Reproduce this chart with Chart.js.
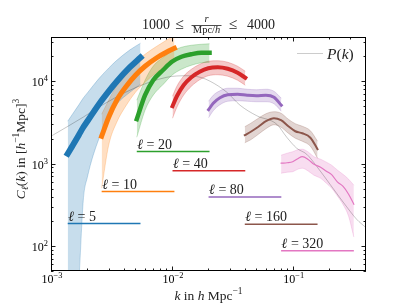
<!DOCTYPE html>
<html>
<head>
<meta charset="utf-8">
<script src="https://cdn.jsdelivr.net/npm/chart.js@4"></script>
<style>
  html, body { margin: 0; background: #fff; }
</style>
</head>
<body>
<canvas id="chart" width="407" height="305"></canvas>
<script>
// multipoles and the level of each flat reference line
const ELLS = [5, 10, 20, 40, 80, 160, 320];
const LEVELS = [188, 460, 1404, 819, 396, 185, 88];

// k nodes, mean curve, upper and lower edge of the band, per multipole
const K5 = [0.001375, 0.0015, 0.0017, 0.00185, 0.002, 0.0025, 0.003, 0.0035, 0.0045, 0.0055];
const MID5 = [1322, 1634, 2228, 2769, 3275, 5307, 7545, 9944, 14783, 19380];
const HI5 = [3275, 3954, 5175, 6257, 7215, 10843, 14414, 17921, 24022, 28880];
const LO5 = [1, 5, 38, 361, 686, 2037, 3563, 5265, 7360, 9200];

const K10 = [0.002625, 0.003, 0.0035, 0.0042, 0.005, 0.006, 0.0075, 0.009, 0.0105];
const MID10 = [2154, 3661, 5886, 8699, 11823, 15199, 19272, 22463, 25119];
const HI10 = [3981, 5886, 8945, 12853, 16995, 21245, 26561, 31404, 36104];
const LO10 = [505, 1676, 3184, 5117, 7356, 9725, 12853, 15199, 16995];

const K20 = [0.005125, 0.006, 0.007, 0.0085, 0.01, 0.012, 0.0145, 0.0175, 0.0205];
const MID20 = [3463, 6767, 10283, 13785, 17234, 19817, 21245, 22152, 22152];
const HI20 = [5886, 10283, 15199, 19543, 23101, 25833, 27317, 28083, 28480];
const LO20 = [2095, 4450, 6767, 9197, 11823, 13978, 15626, 16759, 16995];

const K40 = [0.010125, 0.011, 0.0125, 0.0145, 0.017, 0.02, 0.024, 0.029, 0.035, 0.0405];
const MID40 = [4977, 6579, 8945, 11180, 13034, 14377, 14783, 14178, 12679, 11025];
const HI40 = [6579, 8699, 11498, 13978, 16069, 17475, 17722, 16995, 15199, 13217];
const LO40 = [3561, 4840, 6767, 8699, 10428, 11659, 11989, 11498, 10283, 8945];

const K80 = [0.020125, 0.022, 0.025, 0.029, 0.035, 0.042, 0.05, 0.06, 0.07, 0.0805];
const MID80 = [4513, 5412, 6310, 6861, 6958, 6767, 6673, 6767, 6399, 5117];
const HI80 = [5722, 6767, 7669, 8227, 8227, 8000, 7886, 8000, 7563, 6222];
const LO80 = [3611, 4389, 5189, 5722, 5802, 5722, 5643, 5643, 5337, 4329];

const K160 = [0.040125, 0.045, 0.052, 0.06, 0.07, 0.08, 0.092, 0.105, 0.12, 0.14, 0.1605];
const MID160 = [2215, 2442, 2808, 3275, 3561, 3367, 2848, 2476, 2342, 2066, 1499];
const HI160 = [2808, 3097, 3561, 4037, 4269, 4094, 3463, 3054, 2848, 2512, 1874];
const LO160 = [1797, 1954, 2278, 2656, 2970, 2769, 2342, 2038, 1874, 1630, 1166];

const K320 = [0.080125, 0.09, 0.1, 0.11, 0.12, 0.135, 0.15, 0.17, 0.19, 0.21, 0.235, 0.26, 0.29, 0.3205];
const MID320 = [1014, 1028, 1057, 1150, 1216, 1118, 986, 907, 811, 736, 597, 534, 427, 323];
const HI320 = [1268, 1341, 1398, 1478, 1499, 1379, 1216, 1134, 1043, 959, 834, 746, 649, 549];
const LO320 = [767, 789, 800, 858, 882, 811, 725, 667, 580, 505, 404, 323, 231, 129];

// P(k)
const PK_K = [0.001, 0.00186, 0.002556, 0.004816, 0.00909, 0.0133, 0.01714, 0.02073, 0.0285, 0.03668,
  0.0504, 0.0738, 0.0892, 0.1079, 0.1305, 0.1579, 0.2034, 0.2619, 0.338, 0.4035];
const PK = [2155, 3692, 4977, 8155, 11180, 11660, 11180, 10000, 7356, 5117,
  3818, 3012, 2097, 1541, 1303, 930, 564, 341, 212, 168];

// axis ticks
const X_MAJOR = [0.001, 0.01, 0.1];
const X_EXP = ['\u22123', '\u22122', '\u22121'];
const Y_MAJOR = [100, 1000, 10000];
const Y_EXP = ['2', '3', '4'];

const KS = [K5, K10, K20, K40, K80, K160, K320];
const MIDS = [MID5, MID10, MID20, MID40, MID80, MID160, MID320];
const HIS = [HI5, HI10, HI20, HI40, HI80, HI160, HI320];
const LOS = [LO5, LO10, LO20, LO40, LO80, LO160, LO320];

const COLORS = ['31,119,180', '255,127,14', '44,160,44', '214,39,40', '148,103,189', '140,86,75', '227,119,194'];
const WIDTHS = [6, 5, 4.5, 4, 3, 2, 1.2];
const SERIF = '"Liberation Serif", "DejaVu Serif", serif';

const pts = (k, v) => k.map((x, i) => ({ x, y: v[i] }));

const datasets = [];
ELLS.forEach((ell, i) => {
  const band = `rgba(${COLORS[i]},0.25)`;
  datasets.push({ data: pts(KS[i], HIS[i]), borderColor: band, borderWidth: 1,
    backgroundColor: band, fill: '+1', order: 3 });
  datasets.push({ data: pts(KS[i], LOS[i]), borderColor: band, borderWidth: 1, fill: false, order: 3 });
});
datasets.push({ data: pts(PK_K, PK), borderColor: 'rgba(0,0,0,0.22)', borderWidth: 1, fill: false, order: 2 });
ELLS.forEach((ell, i) => {
  const k = KS[i];
  datasets.push({ data: pts(k, MIDS[i]), borderColor: `rgb(${COLORS[i]})`, borderWidth: WIDTHS[i],
    borderCapStyle: 'square', fill: false, order: 1 });
  datasets.push({ data: [{ x: k[0], y: LEVELS[i] }, { x: k[k.length - 1], y: LEVELS[i] }],
    borderColor: `rgb(${COLORS[i]})`, borderWidth: 1.5, fill: false, order: 1, tension: 0,
    cubicInterpolationMode: 'default' });
});

// mixed italic / upright text with super- and subscripts, drawn on a baseline
function rich(ctx, parts, x, y, size, align) {
  const font = p => `${p[1] ? 'italic ' : ''}${p[2] ? size * 0.7 : size}px ${SERIF}`;
  let w = 0;
  for (const p of parts) { ctx.font = font(p); w += ctx.measureText(p[0]).width; }
  let cx = align === 'center' ? x - w / 2 : align === 'right' ? x - w : x;
  ctx.textAlign = 'left';
  ctx.textBaseline = 'alphabetic';
  for (const p of parts) {
    ctx.font = font(p);
    const dy = p[2] === 1 ? -size * 0.42 : p[2] === -1 ? size * 0.25 : 0;
    ctx.fillText(p[0], cx, y + dy);
    cx += ctx.measureText(p[0]).width;
  }
  return w;
}

const decor = {
  id: 'decor',
  afterDatasetsDraw(chart) {
    const { ctx, chartArea: a, scales: { x, y } } = chart;
    ctx.save();
    ctx.strokeStyle = '#000';
    ctx.lineWidth = 1;
    ctx.strokeRect(a.left + 0.5, a.top + 0.5, a.right - a.left - 1, a.bottom - a.top - 1);

    const tick = (px, len, vertical) => {
      ctx.beginPath();
      if (vertical) {
        ctx.moveTo(px, a.bottom); ctx.lineTo(px, a.bottom - len);
        ctx.moveTo(px, a.top); ctx.lineTo(px, a.top + len);
      } else {
        ctx.moveTo(a.left, px); ctx.lineTo(a.left + len, px);
        ctx.moveTo(a.right, px); ctx.lineTo(a.right - len, px);
      }
      ctx.stroke();
    };
    ctx.lineWidth = 0.9;
    for (let d = 0.001; d < 1; d *= 10) {
      for (let m = 1; m < 10; m++) {
        const v = d * m;
        if (v < x.min || v > x.max) continue;
        tick(Math.round(x.getPixelForValue(v)) + 0.5, m === 1 ? 4.5 : 2.5, true);
      }
    }
    for (let d = 10; d < 1e5; d *= 10) {
      for (let m = 1; m < 10; m++) {
        const v = d * m;
        if (v < y.min || v > y.max) continue;
        tick(Math.round(y.getPixelForValue(v)) + 0.5, m === 1 ? 4.5 : 2.5, false);
      }
    }

    ctx.fillStyle = '#000';
    X_MAJOR.forEach((v, i) => {
      rich(ctx, [['10', 0, 0], [X_EXP[i], 0, 1]], x.getPixelForValue(v) + 1, a.bottom + 12, 12, 'center');
    });
    Y_MAJOR.forEach((v, i) => {
      rich(ctx, [['10', 0, 0], [Y_EXP[i], 0, 1]], a.left - 3, y.getPixelForValue(v) + 5, 12, 'right');
    });

    // flat reference lines get their multipole label
    ctx.fillStyle = '#222';
    ELLS.forEach((ell, i) => {
      rich(ctx, [['\u2113', 1, 0], [' = ' + ell, 0, 0]],
        x.getPixelForValue(KS[i][0]) + 0.5, y.getPixelForValue(LEVELS[i]) - 3, 14, 'left');
    });

    // legend
    ctx.strokeStyle = 'rgba(0,0,0,0.2)';
    ctx.lineWidth = 1;
    ctx.beginPath();
    ctx.moveTo(297, 53.5); ctx.lineTo(323, 53.5);
    ctx.stroke();
    ctx.fillStyle = '#222';
    rich(ctx, [['P', 1, 0], ['(', 0, 0], ['k', 1, 0], [')', 0, 0]], 327, 58.5, 15.5, 'left');

    // title with the r / (Mpc/h) fraction, laid out around the plot centre
    const cx = (a.left + a.right) / 2;
    ctx.textBaseline = 'alphabetic';
    ctx.font = `14px ${SERIF}`;
    ctx.textAlign = 'right';
    ctx.fillText('1000', cx - 38.5, 29.3);
    ctx.textAlign = 'left';
    ctx.fillText('4000', cx + 38.5, 29.3);
    ctx.font = `15.5px ${SERIF}`;
    ctx.textAlign = 'center';
    ctx.fillText('\u2264', cx - 29, 29.3);
    ctx.fillText('\u2264', cx + 24.5, 29.3);
    ctx.fillRect(cx - 17, 25, 30, 0.8);
    rich(ctx, [['r', 1, 0]], cx - 2, 22, 10.5, 'center');
    rich(ctx, [['Mpc/', 0, 0], ['h', 1, 0]], cx - 2, 33, 10.5, 'center');

    // axis titles
    rich(ctx, [['k', 1, 0], [' in ', 0, 0], ['h', 1, 0], [' Mpc', 0, 0], ['\u22121', 0, 1]],
      cx, 300, 13.5, 'center');
    ctx.save();
    ctx.translate(25, (a.top + a.bottom) / 2 - 5);
    ctx.rotate(-Math.PI / 2);
    rich(ctx, [['C', 1, 0], ['\u2113', 1, -1], ['(', 0, 0], ['k', 1, 0], [')', 0, 0], [' in [', 0, 0],
      ['h', 1, 0], ['\u22121', 0, 1], ['Mpc]', 0, 0], ['3', 0, 1]], 0, 0, 13.5, 'center');
    ctx.restore();
    ctx.restore();
  }
};

new Chart(document.getElementById('chart'), {
  type: 'line',
  data: { datasets },
  options: {
    responsive: false,
    animation: false,
    devicePixelRatio: 1,
    parsing: { xAxisKey: 'x', yAxisKey: 'y' },
    elements: {
      point: { radius: 0, hoverRadius: 0 },
      line: { cubicInterpolationMode: 'monotone', borderJoinStyle: 'round' }
    },
    layout: { padding: { left: 51, right: 41, top: 37, bottom: 34 } },
    scales: {
      x: { type: 'logarithmic', min: 0.001, max: 0.404, display: false },
      y: { type: 'logarithmic', min: 50, max: 34400, display: false }
    },
    plugins: {
      legend: { display: false },
      tooltip: { enabled: false },
      title: { display: false }
    }
  },
  plugins: [decor]
});
</script>
</body>
</html>
